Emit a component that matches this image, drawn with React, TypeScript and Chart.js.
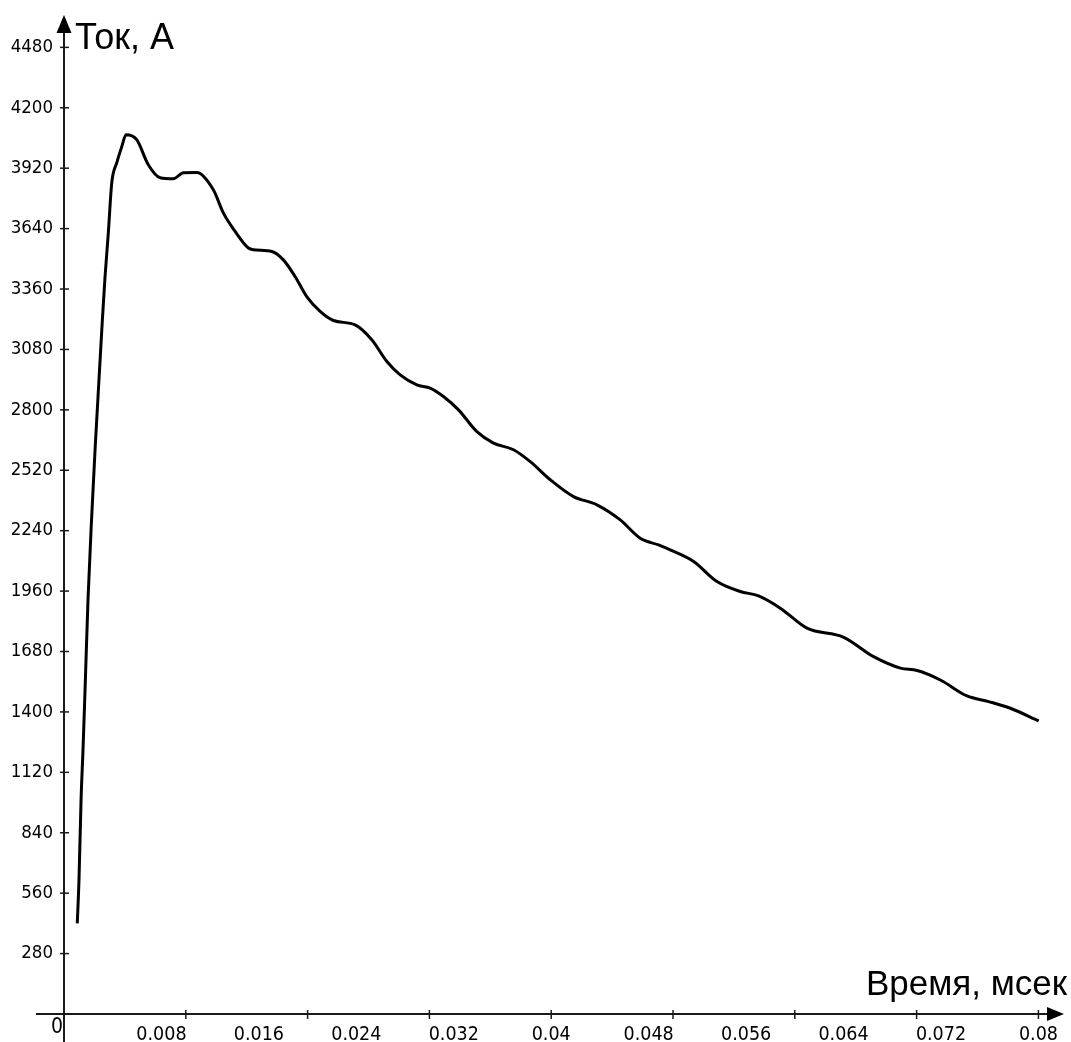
import React, { useEffect, useRef } from "react";
import { Chart, registerables } from "chart.js";

Chart.register(...registerables);

// Time, ms (x) and current, A (y)
const timeMs = [
  0.00109, 0.00123, 0.0014, 0.00156, 0.00172, 0.00197, 0.00226, 0.00255, 0.00301, 0.00315,
  0.00337, 0.00364, 0.00392, 0.00433, 0.00474, 0.00509, 0.00597, 0.00692, 0.00789, 0.00898,
  0.0098, 0.0109, 0.01226, 0.01308, 0.01405, 0.01514, 0.01555, 0.01706, 0.01801, 0.01897,
  0.01993, 0.02103, 0.02212, 0.0239, 0.02527, 0.02651, 0.0276, 0.02897, 0.03006, 0.03115,
  0.03239, 0.0339, 0.03526, 0.0369, 0.03828, 0.03992, 0.04183, 0.04375, 0.04567, 0.04731,
  0.04881, 0.04977, 0.05169, 0.05361, 0.05552, 0.05703, 0.05881, 0.061, 0.06401, 0.06647,
  0.06867, 0.07004, 0.07195, 0.07414, 0.07592, 0.0777, 0.08002,
];

const currentA = [
  420, 621, 992, 1224, 1488, 1919, 2290, 2615, 3078, 3217,
  3417, 3621, 3852, 3945, 4019, 4075, 4052, 3936, 3876, 3871,
  3899, 3900, 3820, 3713, 3627, 3550, 3542, 3534, 3495, 3418,
  3325, 3256, 3214, 3194, 3125, 3024, 2962, 2916, 2901, 2862,
  2800, 2699, 2646, 2615, 2560, 2476, 2398, 2360, 2290, 2205,
  2174, 2151, 2097, 2004, 1958, 1938, 1881, 1788, 1746, 1656,
  1603, 1592, 1548, 1474, 1448, 1417, 1358,
];

const yTickValues = [
  280, 560, 840, 1120, 1400, 1680, 1960, 2240, 2520, 2800, 3080, 3360, 3640, 3920, 4200, 4480,
];
const xLabelValues = [0.008, 0.016, 0.024, 0.032, 0.04, 0.048, 0.056, 0.064, 0.072, 0.08];
const xMarkValues = [0.01, 0.02, 0.03, 0.04, 0.05, 0.06, 0.07, 0.08];

const yTitle = "Ток, А";
const xTitle = "Время, мсек";
const originLabel = "0";

const X_MAX = 0.0821;
const Y_MAX = 4630;

const FONT = '"Liberation Sans", Arial, sans-serif';
const TICK_FONT = '"DejaVu Sans Condensed", "Liberation Sans", sans-serif';

const axesPlugin = {
  id: "axesArrows",
  afterDraw(chart: any) {
    const { ctx, chartArea: a } = chart;
    const xs = chart.scales.x;
    const ys = chart.scales.y;
    const ox = xs.getPixelForValue(0);
    const oy = ys.getPixelForValue(0);
    ctx.save();
    ctx.strokeStyle = "#1a1a1a";
    ctx.fillStyle = "#000";
    ctx.lineWidth = 2;
    // y axis
    ctx.beginPath();
    ctx.moveTo(ox, chart.height);
    ctx.lineTo(ox, a.top + 12);
    ctx.stroke();
    // x axis
    ctx.beginPath();
    ctx.moveTo(ox - 28, oy);
    ctx.lineTo(a.right - 12, oy);
    ctx.stroke();
    // arrow heads
    ctx.beginPath();
    ctx.moveTo(ox, a.top);
    ctx.lineTo(ox - 7.5, a.top + 18);
    ctx.lineTo(ox + 7.5, a.top + 18);
    ctx.closePath();
    ctx.fill();
    ctx.beginPath();
    ctx.moveTo(a.right, oy);
    ctx.lineTo(a.right - 17, oy - 7);
    ctx.lineTo(a.right - 17, oy + 7);
    ctx.closePath();
    ctx.fill();
    // tick marks
    ctx.lineWidth = 1.5;
    yTickValues.forEach((v) => {
      const py = ys.getPixelForValue(v);
      ctx.beginPath();
      ctx.moveTo(ox - 4, py);
      ctx.lineTo(ox + 5, py);
      ctx.stroke();
    });
    xMarkValues.forEach((v) => {
      const px = xs.getPixelForValue(v);
      ctx.beginPath();
      ctx.moveTo(px, oy - 4);
      ctx.lineTo(px, oy + 5);
      ctx.stroke();
    });
    // titles
    ctx.textBaseline = "alphabetic";
    ctx.textAlign = "left";
    ctx.font = `36px ${FONT}`;
    ctx.fillText(yTitle, ox + 11, a.top + 34);
    ctx.textAlign = "right";
    ctx.font = `35px ${FONT}`;
    ctx.fillText(xTitle, a.right + 3, oy - 19);
    // origin
    ctx.font = `21px ${TICK_FONT}`;
    ctx.textAlign = "right";
    ctx.textBaseline = "top";
    ctx.fillText(originLabel, ox - 1, oy + 3);
    ctx.restore();
  },
};

const noPad = (s: any) => {
  s.paddingTop = 0;
  s.paddingBottom = 0;
  s.paddingLeft = 0;
  s.paddingRight = 0;
};

export default function App() {
  const canvasRef = useRef<HTMLCanvasElement | null>(null);

  useEffect(() => {
    const canvas = canvasRef.current;
    if (!canvas) return;
    const chart = new Chart(canvas, {
      type: "line",
      data: {
        datasets: [
          {
            data: timeMs.map((t, i) => ({ x: t, y: currentA[i] })),
            borderColor: "#000",
            borderWidth: 3,
            pointRadius: 0,
            cubicInterpolationMode: "monotone",
            fill: false,
          },
        ],
      },
      options: {
        responsive: false,
        animation: false,
        events: [],
        layout: { padding: { top: 15, right: 7, left: 0, bottom: 0 } },
        plugins: { legend: { display: false }, tooltip: { enabled: false } },
        scales: {
          x: {
            type: "linear",
            min: 0,
            max: X_MAX,
            grid: { display: false, drawTicks: false },
            border: { display: false },
            afterFit: (s: any) => {
              s.height = 28;
              noPad(s);
            },
            afterBuildTicks: (s: any) => {
              s.ticks = xLabelValues.map((v) => ({ value: v }));
            },
            ticks: {
              autoSkip: false,
              maxRotation: 0,
              padding: 9,
              color: "#000",
              font: { family: TICK_FONT, size: 19.5 },
              callback: (v: any) => String(Number(Number(v).toFixed(3))),
            },
          },
          y: {
            type: "linear",
            min: 0,
            max: Y_MAX,
            grid: { display: false, drawTicks: false },
            border: { display: false },
            afterFit: (s: any) => {
              s.width = 64;
              noPad(s);
            },
            afterBuildTicks: (s: any) => {
              s.ticks = yTickValues.map((v) => ({ value: v }));
            },
            ticks: {
              autoSkip: false,
              padding: 11,
              color: "#000",
              font: { family: TICK_FONT, size: 18.5 },
              callback: (v: any) => String(v),
            },
          },
        },
      },
      plugins: [axesPlugin],
    });
    return () => chart.destroy();
  }, []);

  return (
    <div style={{ position: "absolute", left: 0, top: 0, width: 1071, height: 1042, background: "#fff" }}>
      <canvas ref={canvasRef} width={1071} height={1042} style={{ display: "block" }} />
    </div>
  );
}
